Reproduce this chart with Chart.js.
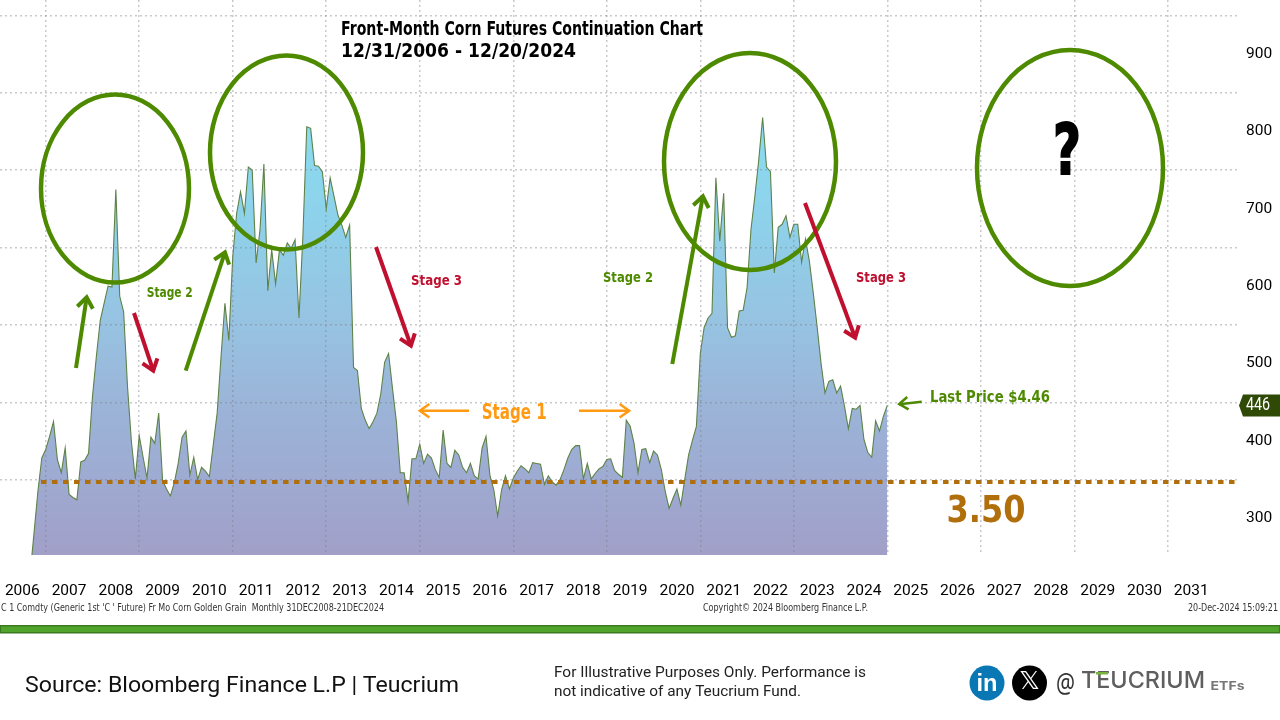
<!DOCTYPE html>
<html><head><meta charset="utf-8">
<style>html,body{margin:0;padding:0;background:#fff}canvas{display:block}</style>
<script src="https://cdn.jsdelivr.net/npm/chart.js@4"></script>
</head><body><canvas id="c" width="1280" height="720"></canvas>
<script>
// Monthly closes (US cents per bushel); each array starts at the given month.
const start2006Month = 8;
const closes2006 = [228,281,335,378,389];
const closes2007 = [406,425,376,359,391,331,327,324,373,375,384,457];
const closes2008 = [509,556,578,600,599,725,587,567,470,399,351,407];
const closes2009 = [379,352,405,397,436,349,338,329,346,371,405,413];
const closes2010 = [356,379,350,366,361,354,395,436,509,578,530,638];
const closes2011 = [694,722,694,754,750,630,673,758,594,647,603,647];
const closes2012 = [640,656,649,660,559,664,806,804,756,755,748,700];
const closes2013 = [740,716,692,679,663,679,495,491,442,427,416,425];
const closes2014 = [436,461,502,513,468,425,359,359,322,377,377,396];
const closes2015 = [371,383,378,363,353,414,371,366,388,382,366,359];
const closes2016 = [371,355,351,391,406,356,337,303,337,355,338,352];
const closes2017 = [361,368,364,359,372,371,370,344,355,347,343,350];
const closes2018 = [363,378,389,394,394,351,371,351,358,364,367,376];
const closes2019 = [377,362,357,353,427,419,397,359,389,390,372,387];
const closes2020 = [382,363,335,313,326,338,317,350,382,401,419,513];
const closes2021 = [547,559,565,740,658,720,546,534,536,568,569,598];
const closes2022 = [673,716,763,818,754,748,617,676,680,691,663,680];
const closes2023 = [680,631,661,632,591,547,500,462,477,479,462,471];
const closes2024 = [445,416,442,441,446,402,385,379,426,413,432,446];
const yearLabels = [2006,2007,2008,2009,2010,2011,2012,2013,2014,2015,2016,2017,2018,2019,2020,2021,2022,2023,2024,2025,2026,2027,2028,2029,2030,2031];
const gridYears = [2007,2009,2011,2013,2015,2017,2019,2021,2023,2025,2027,2029,2031];
const priceLabels = [300,400,500,600,700,800,900];
const priceGrid = [350,450,550,650,750,850,950];
const supportLevel = 347;
const lastPrice = 446;

const yearBlocks = [[2006,closes2006,start2006Month],[2007,closes2007,1],[2008,closes2008,1],[2009,closes2009,1],[2010,closes2010,1],[2011,closes2011,1],[2012,closes2012,1],[2013,closes2013,1],[2014,closes2014,1],[2015,closes2015,1],[2016,closes2016,1],[2017,closes2017,1],[2018,closes2018,1],[2019,closes2019,1],[2020,closes2020,1],[2021,closes2021,1],[2022,closes2022,1],[2023,closes2023,1],[2024,closes2024,1]];
const series = [];
yearBlocks.forEach(([y,vals,first])=>vals.forEach((v,i)=>series.push({x:y+(first+i)/12,y:v})));

const COND = '"DejaVu Sans"';
const GREEN='#4e8a00', RED='#c0102f', ORANGE='#ff9a12', BROWN='#b06f0a';
const xMin=2006.0225, xMax=2032.5, yMin=252.7, yMax=969.8;
const gridColor='rgba(125,125,135,.42)';

function fit(ctx,text,x,y,w,font,color,stroke){
  ctx.save();ctx.font=font;ctx.fillStyle=color;ctx.textAlign='left';ctx.textBaseline='middle';
  const m=ctx.measureText(text).width;ctx.translate(x,y);ctx.scale(w/m,1);ctx.fillText(text,0,0);
  if(stroke){ctx.strokeStyle=color;ctx.lineWidth=stroke;ctx.strokeText(text,0,0);}
  ctx.restore();
}
function ellipse(ctx,cx,cy,rx,ry){ctx.save();ctx.strokeStyle=GREEN;ctx.lineWidth=4.5;ctx.beginPath();ctx.ellipse(cx,cy,rx,ry,0,0,Math.PI*2);ctx.stroke();ctx.restore();}
function arrow(ctx,x0,y0,x1,y1,color,lw,head){
  const a=Math.atan2(y1-y0,x1-x0);ctx.save();ctx.strokeStyle=color;ctx.lineWidth=lw;ctx.lineJoin='miter';ctx.lineCap='butt';
  ctx.beginPath();ctx.moveTo(x0,y0);ctx.lineTo(x1-Math.cos(a)*lw*.6,y1-Math.sin(a)*lw*.6);ctx.stroke();
  ctx.beginPath();ctx.moveTo(x1-head*Math.cos(a-.55),y1-head*Math.sin(a-.55));
  ctx.lineTo(x1-Math.cos(a)*lw*.6,y1-Math.sin(a)*lw*.6);
  ctx.lineTo(x1-head*Math.cos(a+.55),y1-head*Math.sin(a+.55));ctx.stroke();ctx.restore();
}
const overlay={id:'overlay',afterDraw(chart){
  const c=chart.ctx,ys=chart.scales.y;
  fit(c,'Front-Month Corn Futures Continuation Chart',341,30,362,'bold 19px '+COND,'#000');
  fit(c,'12/31/2006 - 12/20/2024',341,51.5,235,'bold 20px '+COND,'#000');
  ellipse(c,115,188.5,74,94);ellipse(c,286.5,152.5,76.5,97);ellipse(c,750,161.5,86,108.5);ellipse(c,1070,168,93,118);
  fit(c,'?',1053,156,28,'bold 70px '+COND,'#000',2);
  arrow(c,76,368,87,295,GREEN,4,15);arrow(c,185.7,370.7,225.7,250,GREEN,4,15);arrow(c,672.3,364,703.3,194,GREEN,4,15);
  arrow(c,134,313,154,373,RED,4,15);arrow(c,376,247,411.7,348,RED,4,15);arrow(c,805,203,856,340,RED,4,15);
  arrow(c,469,410.7,418.3,410.7,ORANGE,2.5,13);arrow(c,579,410.7,630.7,410.7,ORANGE,2.5,13);
  arrow(c,921.7,401.7,897.7,404.3,GREEN,2.5,12);
  fit(c,'Stage 2',146.7,293.5,46,'bold 14px '+COND,GREEN);
  fit(c,'Stage 2',603,278,50,'bold 14px '+COND,GREEN);
  fit(c,'Stage 3',411,281,51,'bold 14px '+COND,RED);
  fit(c,'Stage 3',856,278,50,'bold 14px '+COND,RED);
  fit(c,'Stage 1',481.7,414,65,'bold 20.5px '+COND,ORANGE);
  fit(c,'Last Price $4.46',930,398,120,'bold 16px '+COND,GREEN);
  fit(c,'3.50',946.5,512,79,'bold 38px '+COND,BROWN);
  // last-price tag
  const py=ys.getPixelForValue(lastPrice);
  c.save();c.fillStyle='#2f4a07';c.beginPath();c.moveTo(1239,py);c.lineTo(1243,py-11);c.lineTo(1280,py-11);c.lineTo(1280,py+11);c.lineTo(1243,py+11);c.closePath();c.fill();c.restore();
  fit(c,String(lastPrice),1246,py,24,'18px Roboto','#fff');
  // terminal footer
  fit(c,"C 1 Comdty (Generic 1st 'C ' Future) Fr Mo Corn Golden Grain  Monthly 31DEC2008-21DEC2024",1,608.5,383,'10.5px '+COND,'#333');
  fit(c,'Copyright© 2024 Bloomberg Finance L.P.',703,608.5,165,'10.5px '+COND,'#333');
  fit(c,'20-Dec-2024 15:09:21',1188,608.5,90,'10.5px '+COND,'#333');
  c.save();c.fillStyle='#3b7a22';c.fillRect(0,625,1280,8.5);c.fillStyle='#50a42b';c.fillRect(1,626.5,1278,5.5);c.restore();
  fit(c,'Source: Bloomberg Finance L.P | Teucrium',25,686.5,434,'22px Roboto','#111');
  fit(c,'For Illustrative Purposes Only. Performance is',554,673,312,'15px Roboto','#222');
  fit(c,'not indicative of any Teucrium Fund.',554,692,247,'15px Roboto','#222');
  // social badges and wordmark
  c.save();c.fillStyle='#0a77b5';c.beginPath();c.arc(987,683,17.5,0,Math.PI*2);c.fill();c.fillStyle='#000';c.beginPath();c.arc(1029.5,683,17.5,0,Math.PI*2);c.fill();c.restore();
  fit(c,'in',976.5,684,21,'bold 24px "Liberation Sans"','#fff');
  fit(c,'𝕏',1019,683,21,'24px "DejaVu Sans"','#fff');
  fit(c,'@',1056,685,19,'27px "Noto Sans"','#333');
  fit(c,'TEUCRIUM',1081,681,124,'500 23px Inter','#5f5f5f');
  c.save();c.fillStyle='#7ab33c';c.fillRect(1096,672,12,2.5);c.restore();
  fit(c,'ETFs',1210.5,686,34,'bold 12px Inter','#777');
}};
function areaFill(ctx){
  const ch=ctx.chart,a=ch.chartArea;if(!a)return '#9ab';
  const g=ch.ctx.createLinearGradient(0,125,0,a.bottom);
  g.addColorStop(0,'#89dcf1');g.addColorStop(.22,'#8ed1ea');g.addColorStop(.47,'#97c2e1');g.addColorStop(.65,'#9bb4d8');g.addColorStop(.83,'#9eaad1');g.addColorStop(1,'#a19fc8');
  return g;
}
new Chart(document.getElementById('c'),{
  type:'line',
  data:{datasets:[
    {label:'C 1 Comdty',data:series,parsing:false,borderColor:'#5e8248',borderWidth:1.1,pointRadius:0,tension:0,fill:'start',backgroundColor:areaFill,order:2},
    {label:'3.50',data:[{x:2006.9,y:supportLevel},{x:xMax,y:supportLevel}],parsing:false,borderColor:BROWN,borderWidth:4,borderDash:[5.5,5.5],pointRadius:0,fill:false,order:1}
  ]},
  options:{
    responsive:false,animation:false,devicePixelRatio:1,
    layout:{padding:0,autoPadding:false},
    plugins:{legend:{display:false},tooltip:{enabled:false},title:{display:false}},
    scales:{
      x:{type:'linear',min:xMin,max:xMax,position:'bottom',
        afterBuildTicks(s){s.ticks=[...gridYears,...yearLabels.map(y=>y+.5)].sort((a,b)=>a-b).map(v=>({value:v}));},
        afterFit(s){s.height=165;s.paddingLeft=0;s.paddingRight=0;},
        border:{display:false,dash:[2,3]},
        grid:{drawTicks:false,z:1,lineWidth:1.5,color:c=>Number.isInteger(c.tick.value)?gridColor:'rgba(0,0,0,0)'},
        ticks:{autoSkip:false,maxRotation:0,minRotation:0,padding:27,color:'#000',font:{family:'Roboto',size:15.5},
          callback:v=>Number.isInteger(v)?'':String(Math.floor(v))}},
      y:{type:'linear',min:yMin,max:yMax,position:'right',
        afterBuildTicks(s){s.ticks=[...priceLabels,...priceGrid].sort((a,b)=>a-b).map(v=>({value:v}));},
        afterFit(s){s.width=42;s.paddingTop=0;s.paddingBottom=0;},
        border:{display:false,dash:[2,3]},
        grid:{drawTicks:false,z:1,lineWidth:1.5,color:c=>priceGrid.includes(c.tick.value)?gridColor:'rgba(0,0,0,0)'},
        ticks:{autoSkip:false,padding:8,color:'#000',font:{family:'Roboto',size:15.5},
          callback:v=>priceLabels.includes(v)?String(v):''}}
    }
  },
  plugins:[overlay]
});
</script></body></html>
